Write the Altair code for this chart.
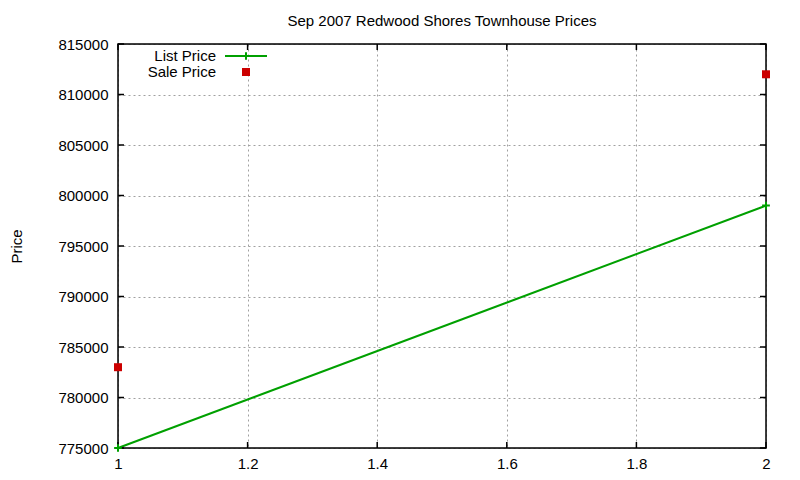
import altair as alt
import pandas as pd

list_x = [1, 2]
list_price = [775000, 799000]
sale_x = [1, 2]
sale_price = [783000, 812000]
y_ticks = [775000, 780000, 785000, 790000, 795000, 800000, 805000, 810000, 815000]
x_ticks = [1, 1.2, 1.4, 1.6, 1.8, 2]

W, H = 648, 404
GREEN = "#00a000"
RED = "#cc0000"
FONT = "Liberation Sans"

list_df = pd.DataFrame({"x": list_x, "y": list_price})
sale_df = pd.DataFrame({"x": sale_x, "y": sale_price})
yt_df = pd.DataFrame({"y": y_ticks})
xt_df = pd.DataFrame({"x": x_ticks})
one = pd.DataFrame({"a": [0]})

xscale = alt.Scale(domain=[1, 2], nice=False, zero=False)
yscale = alt.Scale(domain=[775000, 815000], nice=False, zero=False)

xaxis = alt.Axis(values=x_ticks, format="~g", title=None, grid=True,
                 gridColor="#a0a0a0", gridDash=[2, 3], gridWidth=1,
                 ticks=False, domain=False, labelFontSize=15, labelFont=FONT,
                 labelColor="black", labelPadding=8, labelFlush=False)
yaxis = alt.Axis(values=y_ticks, format="d", title="Price", grid=True,
                 gridColor="#a0a0a0", gridDash=[2, 3], gridWidth=1,
                 ticks=False, domain=False, labelFontSize=15, labelFont=FONT,
                 labelColor="black", labelPadding=10, titleFontSize=15,
                 titleFont=FONT, titleFontWeight="normal", titleColor="black",
                 titlePadding=33)

line = alt.Chart(list_df).mark_line(color=GREEN, strokeWidth=2).encode(
    x=alt.X("x:Q", scale=xscale, axis=xaxis),
    y=alt.Y("y:Q", scale=yscale, axis=yaxis),
)
plus_shape = "M-1,0L1,0M0,-1L0,1"
line_pts = alt.Chart(list_df).mark_point(shape=plus_shape, size=60, color=GREEN,
                                         strokeWidth=2, filled=False, opacity=1).encode(
    x="x:Q", y="y:Q")
sale_pts = alt.Chart(sale_df).mark_point(shape="square", size=64, color=RED,
                                         filled=True, opacity=1).encode(
    x="x:Q", y="y:Q")

tl = 6
INK = "#000000"
ytl = alt.Chart(yt_df).mark_rule(color=INK, strokeWidth=1.5).encode(
    y="y:Q", x=alt.value(0), x2=alt.value(tl))
ytr = alt.Chart(yt_df).mark_rule(color=INK, strokeWidth=1.5).encode(
    y="y:Q", x=alt.value(W - tl), x2=alt.value(W))
xtb = alt.Chart(xt_df).mark_rule(color=INK, strokeWidth=1.5).encode(
    x="x:Q", y=alt.value(H), y2=alt.value(H - tl))
xtt = alt.Chart(xt_df).mark_rule(color=INK, strokeWidth=1.5).encode(
    x="x:Q", y=alt.value(0), y2=alt.value(tl))

frame = alt.Chart(one).mark_rect(fill="white", fillOpacity=0, stroke=INK,
                                 strokeWidth=1.5).encode(
    x=alt.value(0), x2=alt.value(W), y=alt.value(0), y2=alt.value(H))

leg_t1 = alt.Chart(one).mark_text(align="right", baseline="middle", fontSize=15,
                                  font=FONT, color="black").encode(
    x=alt.value(98), y=alt.value(12), text=alt.value("List Price"))
leg_t2 = alt.Chart(one).mark_text(align="right", baseline="middle", fontSize=15,
                                  font=FONT, color="black").encode(
    x=alt.value(98), y=alt.value(28), text=alt.value("Sale Price"))
leg_l = alt.Chart(one).mark_rule(color=GREEN, strokeWidth=2).encode(
    x=alt.value(107), x2=alt.value(149), y=alt.value(12))
leg_p = alt.Chart(one).mark_point(shape=plus_shape, size=60, color=GREEN,
                                  strokeWidth=2, filled=False, opacity=1).encode(
    x=alt.value(128), y=alt.value(12))
leg_s = alt.Chart(one).mark_point(shape="square", size=64, color=RED,
                                  filled=True, opacity=1).encode(
    x=alt.value(128), y=alt.value(28))

chart = alt.layer(line, frame, ytl, ytr, xtb, xtt, line_pts, sale_pts,
                  leg_t1, leg_t2, leg_l, leg_p, leg_s).properties(
    width=W, height=H,
    title=alt.TitleParams("Sep 2007 Redwood Shores Townhouse Prices",
                          fontSize=15, font=FONT, fontWeight="normal",
                          color="black", anchor="middle", offset=8),
    autosize=alt.AutoSizeParams(type="none"),
    padding={"left": 110, "top": 36, "right": 20, "bottom": 30},
).configure_view(stroke=None).configure(background="white")

chart.save("out.html", embed_options={"renderer": "svg", "actions": False})
